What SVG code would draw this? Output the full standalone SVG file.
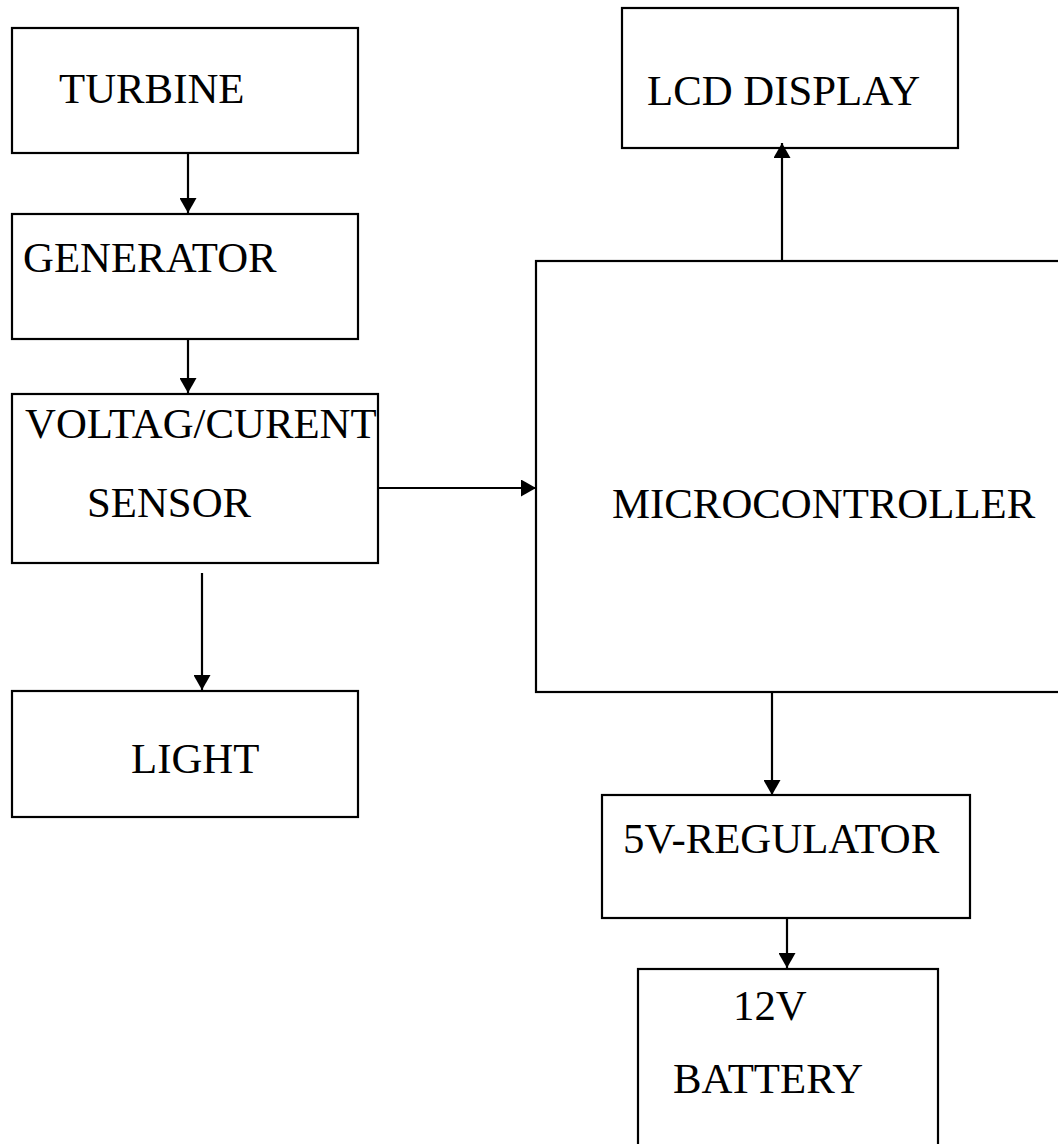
<svg xmlns="http://www.w3.org/2000/svg" width="1058" height="1144" viewBox="0 0 1058 1144">
<defs>
<style>
.box{fill:#fff;stroke:#000;stroke-width:2.2}
.lbl{font-family:"Liberation Serif","Times New Roman",serif;font-size:42.8px;fill:#000}
.conn{stroke:#000;stroke-width:2.2;fill:none}
</style>
<marker id="ah" markerUnits="userSpaceOnUse" markerWidth="16" markerHeight="17" viewBox="0 0 15 17" refX="15" refY="8.5" orient="auto">
<path d="M0,0 L15,8.5 L0,17 z" fill="#000"/>
</marker>
</defs>
<rect width="1058" height="1144" fill="#fff"/>
<g id="turbine"><rect class="box" x="12" y="28" width="346" height="125"/><text class="lbl" x="59" y="103">TURBINE</text></g>
<g id="generator"><rect class="box" x="12" y="214" width="346" height="125"/><text class="lbl" x="23" y="272">GENERATOR</text></g>
<g id="sensor"><rect class="box" x="12" y="394" width="366" height="169"/><text class="lbl" x="25" y="438">VOLTAG/CURENT</text><text class="lbl" x="87" y="517">SENSOR</text></g>
<g id="light"><rect class="box" x="12" y="691" width="346" height="126"/><text class="lbl" x="131" y="773">LIGHT</text></g>
<g id="lcd"><rect class="box" x="622" y="8" width="336" height="140"/><text class="lbl" x="647" y="105">LCD DISPLAY</text></g>
<g id="microcontroller"><rect class="box" x="536" y="261" width="530" height="431"/><text class="lbl" x="612" y="518">MICROCONTROLLER</text></g>
<g id="regulator"><rect class="box" x="602" y="795" width="368" height="123"/><text class="lbl" x="623" y="853">5V-REGULATOR</text></g>
<g id="battery"><rect class="box" x="638" y="969" width="300" height="190"/><text class="lbl" x="733" y="1020">12V</text><text class="lbl" x="673" y="1093">BATTERY</text></g>
<g id="connectors">
<line class="conn" x1="188" y1="153" x2="188" y2="213" marker-end="url(#ah)"/>
<line class="conn" x1="188" y1="339" x2="188" y2="393" marker-end="url(#ah)"/>
<line class="conn" x1="378" y1="488" x2="536" y2="488" marker-end="url(#ah)"/>
<line class="conn" x1="202" y1="573" x2="202" y2="690" marker-end="url(#ah)"/>
<line class="conn" x1="782" y1="261" x2="782" y2="143" marker-end="url(#ah)"/>
<line class="conn" x1="772" y1="692" x2="772" y2="795" marker-end="url(#ah)"/>
<line class="conn" x1="787" y1="918" x2="787" y2="968" marker-end="url(#ah)"/>
</g>
</svg>
